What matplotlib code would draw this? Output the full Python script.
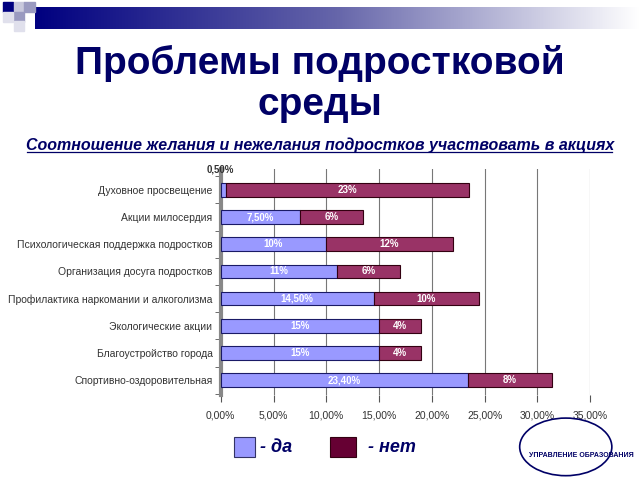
import numpy as np
import matplotlib
matplotlib.use("Agg")
import matplotlib.pyplot as plt
from matplotlib.lines import Line2D
from matplotlib.patches import Rectangle, Ellipse

plt.rcParams['font.family'] = ['Liberation Sans', 'DejaVu Sans']

categories = ["Духовное просвещение", "Акции милосердия",
              "Психологическая поддержка подростков", "Организация досуга подростков",
              "Профилактика наркомании и алкоголизма", "Экологические акции",
              "Благоустройство города", "Спортивно-оздоровительная"]
yes_vals = [0.5, 7.5, 10, 11, 14.5, 15, 15, 23.4]
no_vals = [23, 6, 12, 6, 10, 4, 4, 8]
yes_labels = ["", "7,50%", "10%", "11%", "14,50%", "15%", "15%", "23,40%"]
no_labels = ["23%", "6%", "12%", "6%", "10%", "4%", "4%", "8%"]
xticks = [0, 5, 10, 15, 20, 25, 30, 35]
xtick_labels = ["0,00%", "5,00%", "10,00%", "15,00%", "20,00%", "25,00%", "30,00%", "35,00%"]

navy = "#000066"
blue = "#9999FF"
maroon = "#993366"

fig = plt.figure(figsize=(6.4, 4.8), dpi=100, facecolor='white')

# top decorative gradient band
band = fig.add_axes([0.055, 0.94, 0.945, 0.045])
grad = np.linspace(0, 1, 256).reshape(1, -1)
band.imshow(grad, aspect='auto', cmap=matplotlib.colors.LinearSegmentedColormap.from_list(
    'g', ["#000080", "#6666aa", "#ffffff"]))
band.axis('off')
for (x, y, c) in [(0.005, 0.975, "#000080"), (0.022, 0.975, "#c8c8dc"), (0.038, 0.975, "#9a9ac0"),
                  (0.022, 0.955, "#9a9ac0"), (0.005, 0.955, "#e0e0ec"), (0.022, 0.935, "#e0e0ec")]:
    fig.add_artist(Rectangle((x, y), 0.016, 0.021, transform=fig.transFigure, color=c))

fig.text(0.5, 0.867, "Проблемы подростковой", ha='center', va='center',
         fontsize=28, fontweight='bold', color=navy)
fig.text(0.5, 0.782, "среды", ha='center', va='center',
         fontsize=28, fontweight='bold', color=navy)
fig.text(0.5, 0.698, "Соотношение желания и нежелания подростков участвовать в акциях",
         ha='center', va='center', fontsize=11.5, fontweight='bold',
         fontstyle='italic', color=navy)
fig.add_artist(Line2D([0.042, 0.957], [0.683, 0.683], transform=fig.transFigure,
                      color=navy, lw=0.9))

ax = fig.add_axes([0.345, 0.177, 0.577, 0.47])
y = np.arange(len(categories))
ax.barh(y, yes_vals, height=0.5, color=blue, edgecolor="#1a1a66", lw=0.8, zorder=3)
ax.barh(y, no_vals, left=yes_vals, height=0.5, color=maroon, edgecolor="#330011", lw=0.8, zorder=3)

for i in range(len(categories)):
    if yes_labels[i]:
        ax.text(yes_vals[i] / 2, y[i], yes_labels[i], ha='center', va='center',
                color='white', fontsize=7, fontweight='bold', zorder=4)
    ax.text(yes_vals[i] + no_vals[i] / 2, y[i], no_labels[i], ha='center', va='center',
            color='white', fontsize=7, fontweight='bold', zorder=4)
ax.text(0, y[0] - 0.75, "0,50%", ha='center', va='center', fontsize=7,
        fontweight='bold', color='#333333')

ax.set_xlim(0, 35)
ax.set_ylim(len(categories) - 0.45, -0.75)
ax.set_xticks(xticks)
ax.set_xticklabels(xtick_labels, fontsize=7.5, color='#333333')
ax.set_yticks(y)
ax.set_yticklabels(categories, fontsize=7.5, color='#333333')
ax.set_yticks(np.arange(len(categories) + 1) - 0.5, minor=True)
ax.tick_params(axis='y', which='major', length=0, pad=6)
ax.tick_params(axis='y', which='minor', length=4, color='#555555')
ax.tick_params(axis='x', length=5, color='#555555', pad=6)
ax.grid(axis='x', color='#777777', lw=0.8, zorder=0)
for s in ['top', 'right', 'bottom']:
    ax.spines[s].set_visible(False)
ax.spines['left'].set_color('#888888')
ax.spines['left'].set_linewidth(3)

# legend
fig.add_artist(Rectangle((0.366, 0.048), 0.033, 0.042, transform=fig.transFigure,
                         facecolor=blue, edgecolor="#333366", lw=0.8))
fig.text(0.407, 0.067, "- да", ha='left', va='center', fontsize=13,
         fontweight='bold', fontstyle='italic', color=navy)
fig.add_artist(Rectangle((0.516, 0.048), 0.040, 0.042, transform=fig.transFigure,
                         facecolor="#660033", edgecolor="#330011", lw=0.8))
fig.text(0.575, 0.067, "- нет", ha='left', va='center', fontsize=13,
         fontweight='bold', fontstyle='italic', color=navy)

# logo sketch
fig.add_artist(Ellipse((0.884, 0.069), 0.144, 0.12, transform=fig.transFigure,
                       facecolor='white', edgecolor=navy, lw=1.2))
fig.text(0.99, 0.052, "УПРАВЛЕНИЕ ОБРАЗОВАНИЯ", ha='right', va='center',
         fontsize=5, fontweight='bold', color=navy)

fig.savefig("out.png", dpi=100)
